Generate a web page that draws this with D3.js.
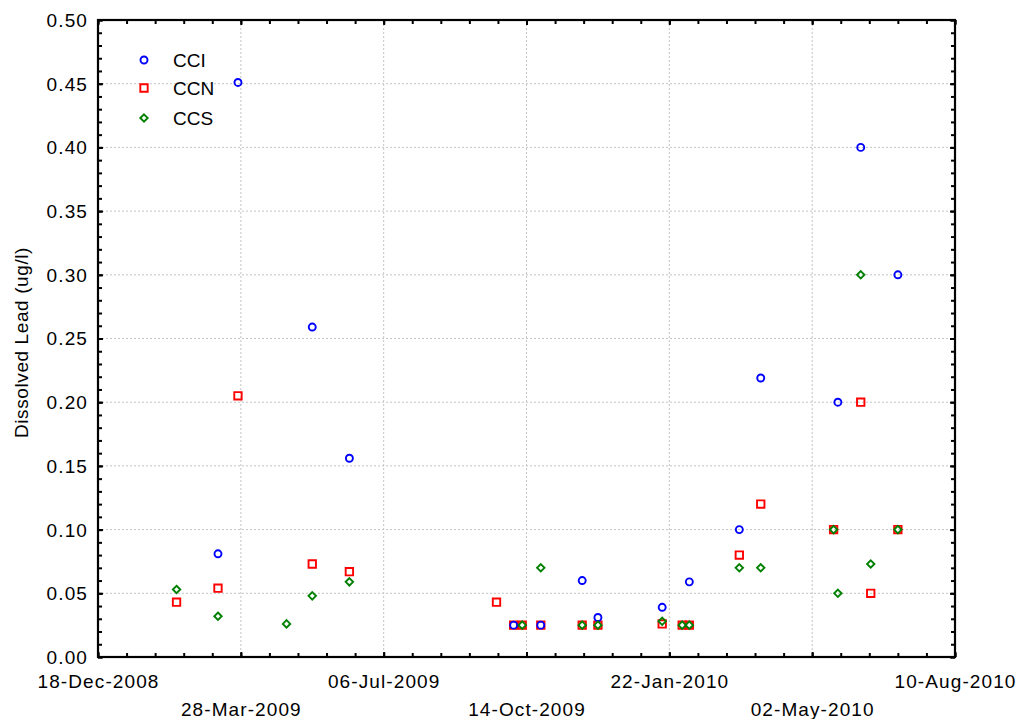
<!DOCTYPE html>
<html>
<head>
<meta charset="utf-8">
<script src="https://cdn.jsdelivr.net/npm/d3@7"></script>
<style>
  html, body { margin: 0; padding: 0; background: #fff; }
  svg { display: block; font-family: "Liberation Sans", Arial, sans-serif; }
  text { font-family: "Liberation Sans", Arial, sans-serif; fill: #000; }
</style>
</head>
<body>
<svg id="chart" width="1026" height="719"></svg>
<script>
// ---- data ----
const sampleDates = [
  "2009-02-11", "2009-03-12", "2009-03-26", "2009-04-29", "2009-05-17", "2009-06-12",
  "2009-09-23", "2009-10-05", "2009-10-11", "2009-10-24", "2009-11-22", "2009-12-03",
  "2010-01-17", "2010-01-31", "2010-02-05", "2010-03-12", "2010-03-27", "2010-05-17",
  "2010-05-20", "2010-06-05", "2010-06-12", "2010-07-01"
];
const cciValues = [null, 0.081, 0.451, null, 0.259, 0.156,
  null, 0.025, null, 0.025, 0.060, 0.031,
  0.039, null, 0.059, 0.100, 0.219, null,
  0.200, 0.400, null, 0.300];
const ccnValues = [0.043, 0.054, 0.205, null, 0.073, 0.067,
  0.043, 0.025, 0.025, 0.025, 0.025, 0.025,
  0.026, 0.025, 0.025, 0.080, 0.120, 0.100,
  null, 0.200, 0.050, 0.100];
const ccsValues = [0.053, 0.032, null, 0.026, 0.048, 0.059,
  null, null, 0.025, 0.070, 0.025, 0.025,
  0.028, 0.025, 0.025, 0.070, 0.070, 0.100,
  0.050, 0.300, 0.073, 0.100];
const seriesNames = ["CCI", "CCN", "CCS"];
const xTickLabels = ["18-Dec-2008", "28-Mar-2009", "06-Jul-2009", "14-Oct-2009",
  "22-Jan-2010", "02-May-2010", "10-Aug-2010"];
const yTickValues = [0, 0.05, 0.10, 0.15, 0.20, 0.25, 0.30, 0.35, 0.40, 0.45, 0.50];
const yTitle = "Dissolved Lead (ug/l)";

// ---- layout ----
const W = 1026, H = 719;
const margin = { left: 98, top: 20, right: 71, bottom: 62 };
const iw = W - margin.left - margin.right;
const ih = H - margin.top - margin.bottom;

const parse = d3.utcParse("%Y-%m-%d");
const parseTick = d3.utcParse("%d-%b-%Y");
const xTicks = xTickLabels.map(parseTick);
const fmtTick = d3.utcFormat("%d-%b-%Y");

const x = d3.scaleUtc().domain([xTicks[0], xTicks[xTicks.length - 1]]).range([0, iw]);
const y = d3.scaleLinear().domain([0, 0.5]).range([ih, 0]);

const svg = d3.select("#chart");
const g = svg.append("g").attr("transform", `translate(${margin.left},${margin.top})`);

const minorXTicks = d3.range(0, 601, 20).map(k => d3.utcDay.offset(xTicks[0], k));
const minorYTicks = d3.range(0, 51).map(k => k / 100);

// grid
const gridColor = "#c4c4c4";
g.append("g").selectAll("line").data(xTicks.slice(1, -1)).join("line")
  .attr("x1", d => x(d)).attr("x2", d => x(d)).attr("y1", 0).attr("y2", ih)
  .attr("stroke", gridColor).attr("stroke-width", 1).attr("stroke-dasharray", "2,2");
g.append("g").selectAll("line").data(yTickValues.slice(1, -1)).join("line")
  .attr("y1", d => y(d)).attr("y2", d => y(d)).attr("x1", 0).attr("x2", iw)
  .attr("stroke", gridColor).attr("stroke-width", 1).attr("stroke-dasharray", "2,2");

// axes (ticks drawn inward)
const axisStyle = sel => {
  sel.select(".domain").remove();
  sel.selectAll(".tick line").attr("stroke", "#000").attr("stroke-width", 2);
};
g.append("g").attr("transform", `translate(0,${ih})`)
  .call(d3.axisBottom(x).tickValues(minorXTicks).tickSize(-4).tickFormat(""))
  .call(axisStyle);
g.append("g")
  .call(d3.axisTop(x).tickValues(minorXTicks).tickSize(-4).tickFormat(""))
  .call(axisStyle);
g.append("g")
  .call(d3.axisLeft(y).tickValues(minorYTicks).tickSize(-4).tickFormat(""))
  .call(axisStyle);
g.append("g").attr("transform", `translate(${iw},0)`)
  .call(d3.axisRight(y).tickValues(minorYTicks).tickSize(-4).tickFormat(""))
  .call(axisStyle);

const labelFont = sel => sel
  .attr("fill", "#000")
  .attr("font-family", "'Liberation Sans', Arial, sans-serif")
  .style("font-size", "19px")
  .style("letter-spacing", "1.1px");

const xAxisG = g.append("g").attr("transform", `translate(0,${ih})`)
  .call(d3.axisBottom(x).tickValues(xTicks).tickSize(-5).tickFormat(fmtTick))
  .call(axisStyle);
xAxisG.attr("font-family", null).attr("font-size", null);
xAxisG.selectAll(".tick text")
  .attr("y", (d, i) => i % 2 === 0 ? 31 : 59)
  .attr("dy", null)
  .call(labelFont);
g.append("g")
  .call(d3.axisTop(x).tickValues(xTicks).tickSize(-5).tickFormat(""))
  .call(axisStyle);

const yAxisG = g.append("g")
  .call(d3.axisLeft(y).tickValues(yTickValues).tickSize(-5).tickFormat(d3.format(".2f")))
  .call(axisStyle);
yAxisG.attr("font-family", null).attr("font-size", null);
yAxisG.selectAll(".tick text")
  .attr("x", -10)
  .attr("dy", "0.34em")
  .call(labelFont);
g.append("g").attr("transform", `translate(${iw},0)`)
  .call(d3.axisRight(y).tickValues(yTickValues).tickSize(-5).tickFormat(""))
  .call(axisStyle);

// frame
g.append("rect").attr("x", 0).attr("y", 0).attr("width", iw).attr("height", ih)
  .attr("fill", "none").attr("stroke", "#000").attr("stroke-width", 2.2);

// y title
svg.append("text")
  .attr("transform", `translate(28,${margin.top + ih / 2 + 4}) rotate(-90)`)
  .attr("text-anchor", "middle")
  .style("font-size", "19px")
  .style("letter-spacing", "0.6px")
  .text(yTitle);

// ---- points ----
const colors = { CCI: "#0000ff", CCN: "#ff0000", CCS: "#008000" };
const rows = sampleDates.map((d, i) => ({ date: parse(d), CCI: cciValues[i], CCN: ccnValues[i], CCS: ccsValues[i] }));

const sym = {
  CCI: d3.symbol().type(d3.symbolCircle).size(Math.PI * 3.5 * 3.5),
  CCN: d3.symbol().type(d3.symbolSquare).size(7.4 * 7.4)
};
const diamondPath = "M0,-3.7L3.7,0L0,3.7L-3.7,0Z";

function drawMarker(sel, name) {
  const p = sel.append("path").attr("d", name === "CCS" ? diamondPath : sym[name]());
  p.attr("fill", "none").attr("stroke", colors[name]).attr("stroke-width", 1.9);
}

const plot = g.append("g");
["CCN", "CCI", "CCS"].forEach(name => {
  plot.append("g").selectAll("g").data(rows.filter(r => r[name] !== null)).join("g")
    .attr("transform", r => `translate(${x(r.date)},${y(r[name])})`)
    .each(function () { drawMarker(d3.select(this), name); });
});

// ---- legend ----
const legend = svg.append("g");
const legendY = [60, 88, 118];
seriesNames.forEach((name, i) => {
  const m = legend.append("g").attr("transform", `translate(144,${legendY[i]})`);
  drawMarker(m, name);
  legend.append("text").attr("x", 173).attr("y", legendY[i]).attr("dy", "0.35em")
    .style("font-size", "19px").text(name);
});
</script>
</body>
</html>
